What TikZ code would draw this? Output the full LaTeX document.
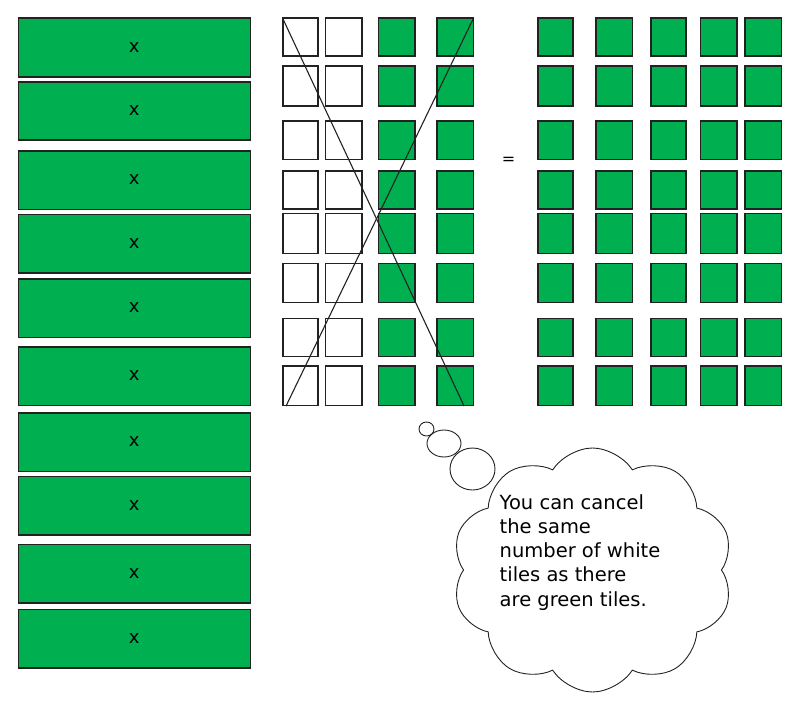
\documentclass[tikz,border=0pt]{standalone}
\usepackage{fontspec}
\setsansfont{DejaVu Sans}
\usetikzlibrary{shapes.symbols, shapes.geometric, calc}
\definecolor{tilegreen}{RGB}{0,176,80}
\definecolor{edgegray}{RGB}{34,34,34}

\begin{document}
\begin{tikzpicture}[x=1pt, y=-1pt,
        bar_box/.style={
            draw=edgegray, line width=1.6pt, fill=tilegreen, anchor=north west,
            minimum width=232pt, minimum height=58.5pt, inner sep=0pt,
            font=\sffamily\fontsize{18}{18}\selectfont
        },
        tile_box/.style={
            draw=edgegray, line width=1.6pt, anchor=north west, inner sep=0pt
        },
        puff/.style={draw=edgegray, line width=0.9pt, ellipse, inner sep=0pt},
        cross_line/.style={draw=edgegray, line width=1.1pt}
    ]
    \useasboundingbox (0,0) rectangle (800,706);

    % Bars on the left (top to bottom)
    \foreach \bartop [count=\i] in {17.5,81,150,213.5,278,346,412,475.5,543.5,608.5}
        \node[bar_box] (bar\i) at (17.5,\bartop) {\raisebox{-2pt}{x}};

    % Middle tiles: two white columns, two green columns
    \foreach \rowtop/\rowh [count=\r] in {17.5/38,65.5/40,120.5/38,170/38,212.5/40,262.5/39,317.5/38,365/39.5} {
        \foreach \colx/\colw/\tilec [count=\c] in {282/35/white,324.5/36.5/white,377.5/36.5/tilegreen,436/36.5/tilegreen}
            \node[tile_box, fill=\tilec, minimum width=\colw pt, minimum height=\rowh pt] (mid-\r-\c) at (\colx,\rowtop) {};
        % Right tiles: all green
        \foreach \colx/\colw [count=\c] in {537/35,595/36.5,650/35,699.5/36.5,744/36.5}
            \node[tile_box, fill=tilegreen, minimum width=\colw pt, minimum height=\rowh pt] (rhs-\r-\c) at (\colx,\rowtop) {};
    }

    % Crossing out
    \draw[cross_line] ([shift={(1pt,-1.5pt)}]mid-1-1.north west) -- ([xshift=-10pt]mid-8-4.south east);
    \draw[cross_line] ([shift={(-1pt,-1.5pt)}]mid-1-4.north east) -- ([xshift=4pt]mid-8-1.south west);

    \node[font=\sffamily\fontsize{16}{16}\selectfont] (equals) at (508.5,160.5) {=};

    % Thought cloud
    \node[cloud, draw=edgegray, line width=0.9pt, cloud puffs=10, cloud puff arc=115,
        aspect=1.15, minimum width=281pt, minimum height=244pt] (thought) at (592.5,570) {};
    \node[puff, minimum width=15pt, minimum height=14pt] (puff1) at (426.5,429) {};
    \node[puff, minimum width=34pt, minimum height=27pt] (puff2) at (444,443.5) {};
    \node[puff, minimum width=45pt, minimum height=42pt] (puff3) at (472.5,469) {};

    \node[anchor=north west, align=left, inner sep=0pt,
        font=\sffamily\fontsize{19.5}{24.3}\selectfont] (msg) at (499.5,494)
        {You can cancel\\the same\\number of white\\tiles as there\\are green tiles.};

\end{tikzpicture}
\end{document}
